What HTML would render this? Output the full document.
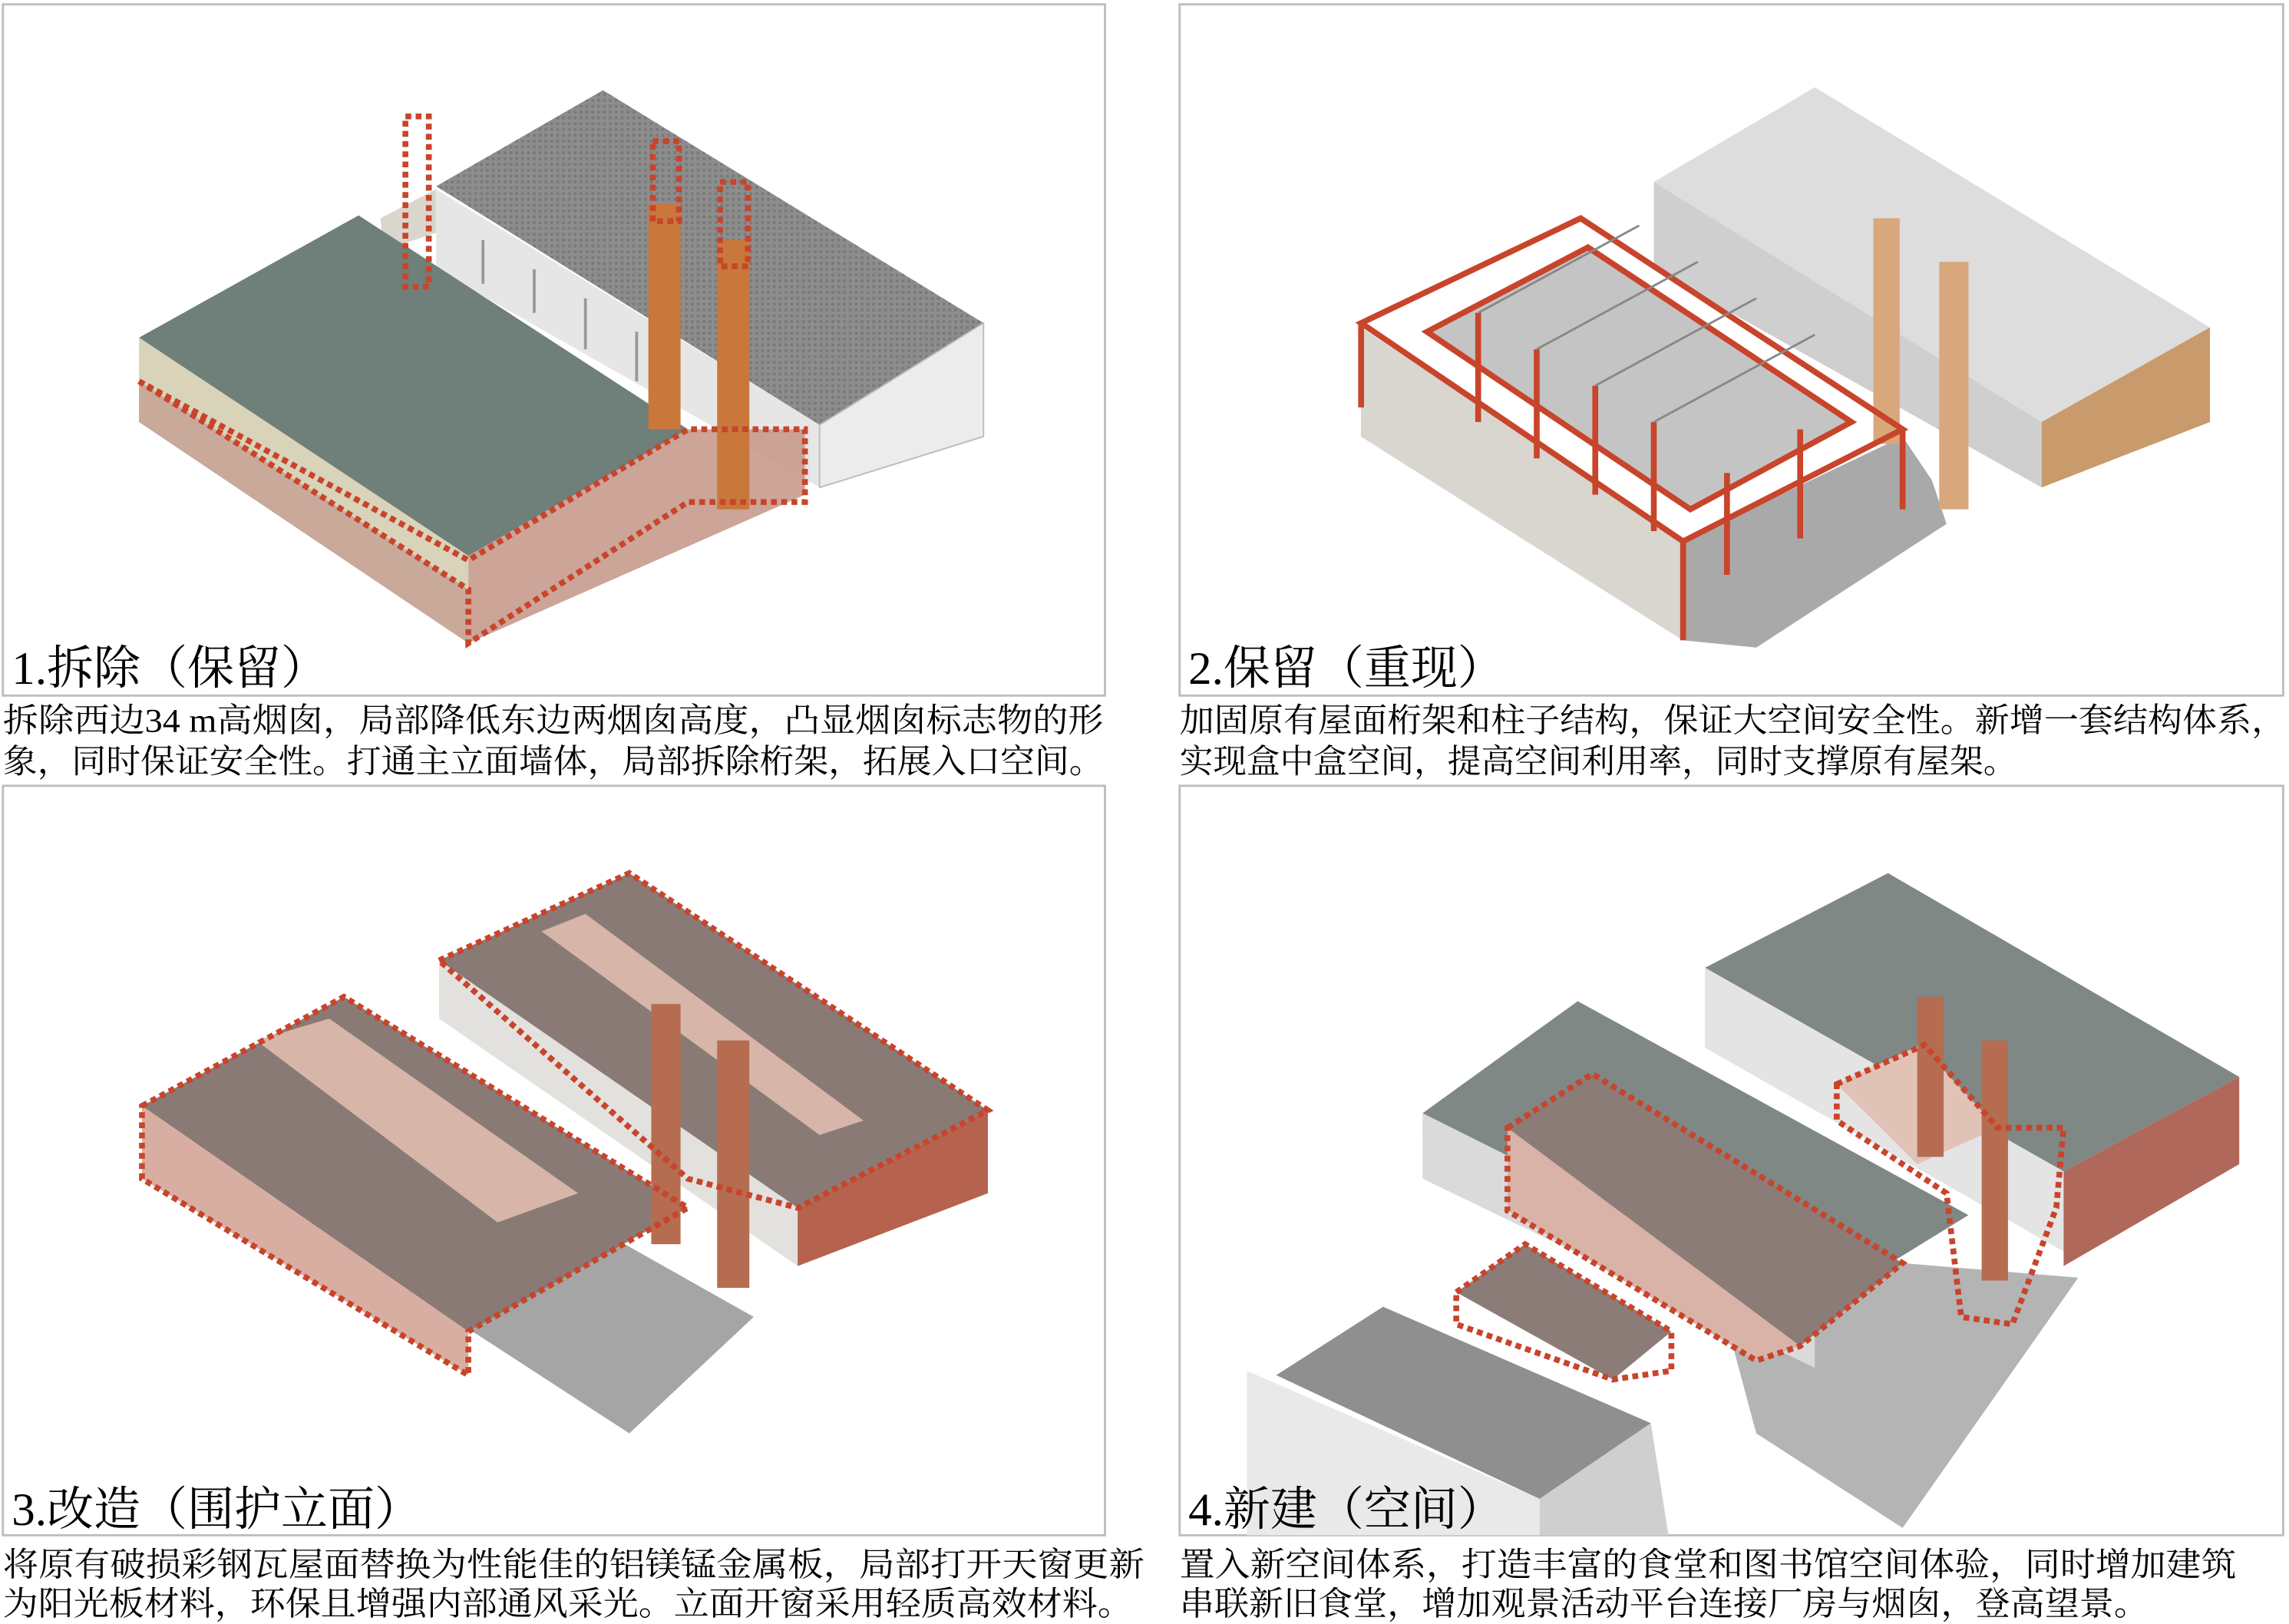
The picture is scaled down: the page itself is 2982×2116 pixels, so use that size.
<!DOCTYPE html>
<html><head><meta charset="utf-8"><style>
html,body{margin:0;padding:0;background:#fff;}
svg{display:block;}
text{font-family:"Liberation Serif","Noto Serif CJK SC",serif;fill:#000;}
</style></head><body>
<svg width="2982" height="2116" viewBox="0 0 1564 1116" preserveAspectRatio="none" xmlns="http://www.w3.org/2000/svg">
<defs>
<pattern id="tex" width="4" height="4" patternUnits="userSpaceOnUse"><rect width="4" height="4" fill="#8d8d8d"/><rect width="2" height="2" fill="#7a7a7a"/></pattern>
</defs>
<rect x="2" y="3" width="753" height="475" fill="#fff" stroke="#bdbdbd" stroke-width="1.5"/>
<rect x="806" y="3" width="754" height="475" fill="#fff" stroke="#bdbdbd" stroke-width="1.5"/>
<rect x="2" y="540" width="753" height="515" fill="#fff" stroke="#bdbdbd" stroke-width="1.5"/>
<rect x="806" y="540" width="754" height="515" fill="#fff" stroke="#bdbdbd" stroke-width="1.5"/>

<!-- PANEL 1 -->
<g>
<polygon points="260,150 298,130 298,160 262,172" fill="#d9d6cc"/>
<polygon points="298,128 412,62 672,222 560,292" fill="url(#tex)"/>
<polygon points="298,130 560,292 560,335 298,185" fill="#e6e6e6"/>
<g stroke="#999" stroke-width="2"><line x1="330" y1="165" x2="330" y2="195"/><line x1="365" y1="185" x2="365" y2="215"/><line x1="400" y1="205" x2="400" y2="240"/><line x1="435" y1="228" x2="435" y2="262"/></g>
<polygon points="560,292 672,222 672,300 560,335" fill="#ececec" stroke="#bbb"/>
<polygon points="95,232 245,148 470,295 320,382" fill="#6f7f79"/>
<polygon points="95,232 320,382 320,442 95,290" fill="#d8d3b9"/>
<polygon points="320,382 470,295 550,295 550,340 320,442" fill="#c79a8d" opacity="0.9"/>
<polygon points="95,262 320,405 320,442 95,290" fill="#c8a99a"/>
<rect x="443" y="140" width="22" height="155" fill="#c9773a"/>
<rect x="490" y="165" width="22" height="185" fill="#c9773a"/>
<g fill="none" stroke="#c8442b" stroke-width="4" stroke-dasharray="4 3">
<rect x="277" y="80" width="16" height="117"/>
<rect x="446" y="97" width="18" height="55"/>
<rect x="492" y="125" width="19" height="58"/>
<polygon points="95,262 320,405 320,442 470,345 550,345 550,295 470,295 320,385 95,262"/>
</g>
<text x="8" y="470" font-size="32">1.拆除（保留）</text>
</g>

<!-- PANEL 2 -->
<g>
<polygon points="1130,125 1240,60 1510,225 1395,290" fill="#d4d4d4" opacity="0.8"/>
<polygon points="1130,125 1395,290 1395,335 1130,185" fill="#cfcfcf"/>
<polygon points="1395,290 1510,225 1510,290 1395,335" fill="#c99a6c"/>
<polygon points="930,300 1150,440 1200,445 1330,360 1320,330 1300,300 1150,372 930,260" fill="#a9a9a9"/>
<polygon points="975,228 1085,170 1265,290 1155,350" fill="#c4c4c4"/>
<polygon points="930,225 1150,372 1150,440 930,300" fill="#d8d6cf"/>
<rect x="1280" y="150" width="18" height="155" fill="#d9a77c"/>
<rect x="1325" y="180" width="20" height="170" fill="#d9a77c"/>
<g fill="none" stroke="#c8442b" stroke-width="4">
<polygon points="930,222 1080,150 1300,295 1150,372"/>
<polygon points="975,228 1085,170 1265,290 1155,350"/>
<line x1="1150" y1="372" x2="1150" y2="440"/>
<line x1="1300" y1="295" x2="1300" y2="350"/>
<line x1="930" y1="222" x2="930" y2="280"/>
<line x1="1010" y1="215" x2="1010" y2="290"/><line x1="1050" y1="240" x2="1050" y2="315"/>
<line x1="1090" y1="265" x2="1090" y2="340"/><line x1="1130" y1="290" x2="1130" y2="365"/>
<line x1="1180" y1="325" x2="1180" y2="395"/><line x1="1230" y1="295" x2="1230" y2="370"/>
</g>
<g fill="none" stroke="#888" stroke-width="1.5">
<line x1="1010" y1="215" x2="1120" y2="155"/><line x1="1050" y1="240" x2="1160" y2="180"/><line x1="1090" y1="265" x2="1200" y2="205"/><line x1="1130" y1="290" x2="1240" y2="230"/>
</g>
<text x="812" y="470" font-size="32">2.保留（重现）</text>
</g>

<!-- PANEL 3 -->
<g>
<polygon points="300,660 430,600 675,763 545,830" fill="#8a7a76"/>
<polygon points="300,660 545,830 545,870 300,700" fill="#e3e1de"/>
<polygon points="545,830 675,763 675,820 545,870" fill="#b5624e"/>
<polygon points="330,800 515,905 430,985 300,900" fill="#a5a5a5"/>
<polygon points="97,760 235,685 470,830 320,915" fill="#8a7a76"/>
<polygon points="175,715 225,700 395,820 340,840" fill="#d7b5a8"/>
<polygon points="370,640 400,628 590,770 560,780" fill="#d7b5a8"/>
<polygon points="97,760 320,915 320,945 97,810" fill="#d9aea2"/>
<rect x="445" y="690" width="20" height="165" fill="#b56c50"/>
<rect x="490" y="715" width="22" height="170" fill="#b56c50"/>
<g fill="none" stroke="#c8442b" stroke-width="4" stroke-dasharray="4 3">
<polygon points="97,760 235,685 470,830 320,915 320,945 97,810"/>
<polygon points="300,660 430,600 675,763 545,830 470,810"/>
</g>
<text x="8" y="1048" font-size="32">3.改造（围护立面）</text>
</g>

<!-- PANEL 4 -->
<g>
<polygon points="1180,910 1300,868 1420,878 1300,1050 1200,985" fill="#b4b4b4"/>
<polygon points="1165,665 1290,600 1530,740 1410,805" fill="#7f8885"/>
<polygon points="1165,665 1410,805 1410,860 1165,720" fill="#e4e4e4"/>
<polygon points="1410,805 1530,740 1530,800 1410,870" fill="#b0685a"/>
<polygon points="972,765 1078,688 1345,835 1240,900" fill="#7f8885"/>
<polygon points="972,765 1240,900 1240,940 972,810" fill="#dadada"/>
<polygon points="1030,775 1088,738 1300,868 1230,925" fill="#8c7c78"/>
<polygon points="1030,775 1230,925 1200,935 1030,832" fill="#d9b3a8"/>
<polygon points="1255,745 1312,718 1365,775 1310,800" fill="#e1c2b6"/>
<rect x="1310" y="685" width="18" height="110" fill="#b56c50"/>
<rect x="1354" y="715" width="18" height="165" fill="#b56c50"/>
<polygon points="995,888 1042,855 1142,915 1102,948" fill="#8c7c78"/>
<polygon points="872,945 945,898 1128,978 1052,1030" fill="#8f8f8f"/>
<polygon points="852,942 1052,1030 1052,1055 852,1055" fill="#e9e9e9"/>
<polygon points="1052,1030 1128,978 1140,1055 1052,1055" fill="#cfcfcf"/>
<g fill="none" stroke="#c8442b" stroke-width="4" stroke-dasharray="4 3">
<polygon points="1030,775 1088,738 1300,868 1230,925 1200,935 1030,832"/>
<polygon points="995,888 1042,855 1142,915 1142,942 1102,948 995,910"/>
<polygon points="1255,745 1315,718 1365,775 1410,775 1405,830 1375,910 1340,905 1330,820 1255,770"/>
</g>
<text x="812" y="1048" font-size="32">4.新建（空间）</text>
</g>

<g font-size="23">
<text x="2" y="503" textLength="752" lengthAdjust="spacingAndGlyphs">拆除西边34 m高烟囱，局部降低东边两烟囱高度，凸显烟囱标志物的形</text>
<text x="2" y="531" textLength="752" lengthAdjust="spacingAndGlyphs">象，同时保证安全性。打通主立面墙体，局部拆除桁架，拓展入口空间。</text>
<text x="806" y="503" textLength="756" lengthAdjust="spacingAndGlyphs">加固原有屋面桁架和柱子结构，保证大空间安全性。新增一套结构体系，</text>
<text x="806" y="531" textLength="572" lengthAdjust="spacingAndGlyphs">实现盒中盒空间，提高空间利用率，同时支撑原有屋架。</text>
<text x="2" y="1083" textLength="780" lengthAdjust="spacingAndGlyphs">将原有破损彩钢瓦屋面替换为性能佳的铝镁锰金属板，局部打开天窗更新</text>
<text x="2" y="1110" textLength="772" lengthAdjust="spacingAndGlyphs">为阳光板材料，环保且增强内部通风采光。立面开窗采用轻质高效材料。</text>
<text x="806" y="1083" textLength="722" lengthAdjust="spacingAndGlyphs">置入新空间体系，打造丰富的食堂和图书馆空间体验，同时增加建筑</text>
<text x="806" y="1110" textLength="662" lengthAdjust="spacingAndGlyphs">串联新旧食堂，增加观景活动平台连接厂房与烟囱，登高望景。</text>
</g>
</svg>
</body></html>
